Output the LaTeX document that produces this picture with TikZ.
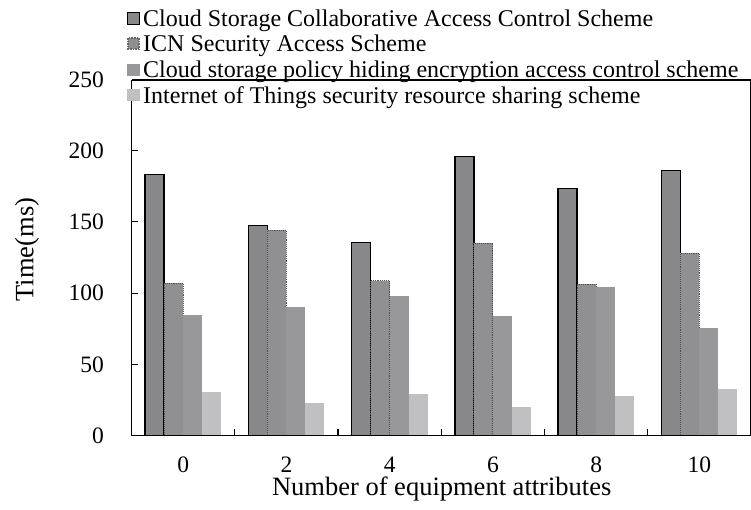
\documentclass[tikz,border=0pt]{standalone}
\usepackage{fontspec}
\setmainfont{Liberation Serif}
\definecolor{cA}{HTML}{88888B}
\definecolor{cB}{HTML}{909093}
\definecolor{cBd}{HTML}{505052}
\definecolor{cC}{HTML}{98989B}
\definecolor{cD}{HTML}{C0C0C3}
\begin{document}
\begin{tikzpicture}[x=1pt,y=-1pt,
  bA/.style={fill=cA,draw=black,line width=1.3pt},
  bB/.style={fill=cB,draw=cBd,densely dotted,line width=1.1pt},
  bC/.style={fill=cC},
  bD/.style={fill=cD},
  ticklbl/.style={font=\fontsize{23.5}{26}\selectfont,inner sep=0pt},
  leglbl/.style={font=\fontsize{24}{27}\selectfont,inner sep=0pt,anchor=base west},
  axtitle/.style={font=\fontsize{26.5}{30}\selectfont,inner sep=0pt},
  axisline/.style={line width=1.8pt},
  frameline/.style={line width=1.1pt}]
\useasboundingbox (0,0) rectangle (751,509);
% bars
\foreach \k/\a/\b/\c/\d in {0/183.5/107/84.7/30.9, 1/147.5/144/90.4/22.7, 2/135.3/108.8/98.3/29, 3/195.9/135/83.6/19.9, 4/173.7/106.3/104.6/27.9, 5/185.9/128/75.6/33}{
  \pgfmathsetmacro{\xs}{131.5+103.25*(\k+0.5)-38}
  \pgfmathsetmacro{\ya}{435.5-1.424*\a}
  \pgfmathsetmacro{\yb}{435.5-1.424*\b}
  \pgfmathsetmacro{\yc}{435.5-1.424*\c}
  \pgfmathsetmacro{\yd}{435.5-1.424*\d}
  \draw[bA] (\xs,435.5) rectangle ({\xs+19},\ya);
  \draw[bB] ({\xs+19},435.5) rectangle ({\xs+38},\yb);
  \fill[bC] ({\xs+38},435.5) rectangle ({\xs+57},\yc);
  \fill[bD] ({\xs+57},435.5) rectangle ({\xs+76},\yd);
}
% frame and axes
\draw[frameline] (131.5,80) -- (750.4,80) -- (750.4,435.5);
\draw[axisline] (131.5,80) -- (131.5,435.5) -- (751,435.5);
\foreach \v in {50,100,150,200}{
  \draw[frameline] (131.5,{435.5-1.424*\v}) -- (138,{435.5-1.424*\v});
}
\foreach \k in {1,...,5}{
  \draw[frameline] ({131.5+103.25*\k},435.5) -- ({131.5+103.25*\k},429);
}
% y tick labels
\foreach \v in {0,50,100,150,200,250}{
  \node[ticklbl,anchor=east] (yl\v) at (104,{435.5-1.424*\v}) {\v};
}
% x tick labels
\foreach \k/\t in {0/0,1/2,2/4,3/6,4/8,5/10}{
  \node[ticklbl,anchor=base] (xl\k) at ({131.5+103.25*(\k+0.5)},472.5) {\t};
}
% axis titles
\node[axtitle,rotate=90] (ytitle) at (27,249.5) {Time(ms)};
\node[axtitle,anchor=base] (xtitle) at (441.7,495.5) {Number of equipment attributes};
% legend
\draw[fill=cA,draw=black,line width=0.9pt] (127.5,12) rectangle (139.5,24);
\draw[fill=cB,draw=cB!70!black,densely dotted,line width=1.6pt] (128,38) rectangle (139,49);
\fill[cC] (127,63.5) rectangle (140,75.5);
\fill[cD] (127,89) rectangle (140,101);
\node[leglbl] (l1) at (143,26) {Cloud Storage Collaborative Access Control Scheme};
\node[leglbl] (l2) at (143,51.7) {ICN Security Access Scheme};
\node[leglbl] (l3) at (143,77.4) {Cloud storage policy hiding encryption access control scheme};
\node[leglbl] (l4) at (143,103) {Internet of Things security resource sharing scheme};
\end{tikzpicture}
\end{document}
